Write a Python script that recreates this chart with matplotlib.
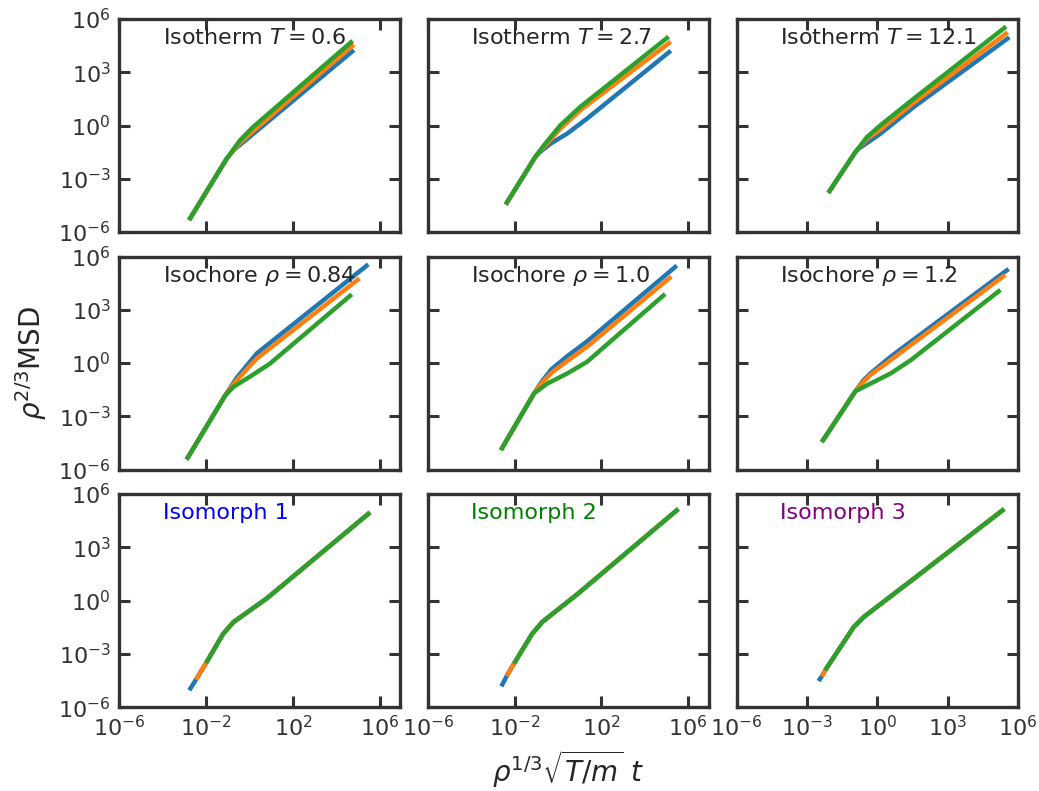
import matplotlib.pyplot as plt
import numpy as np

# all values are log10 of the plotted quantity
# row 1: isotherms (blue, orange, green)
iso_t06_x = [[-2.78, -1.05, -0.74, 4.8],
             [-2.78, -1.05, -0.44, 0.17, 4.8],
             [-2.78, -1.05, -0.44, 0.17, 4.74]]
iso_t06_y = [[-5.33, -1.87, -1.4, 4.25],
             [-5.33, -1.87, -0.99, -0.31, 4.56],
             [-5.33, -1.87, -0.84, -0.08, 4.77]]

iso_t27_x = [[-2.41, -1.03, -0.88, -0.34, 0.42, 1.34, 5.2],
             [-2.41, -1.03, -0.65, 0.11, 1.03, 5.2],
             [-2.41, -1.03, -0.65, 0.11, 1.03, 5.1]]
iso_t27_y = [[-4.45, -1.74, -1.55, -1.02, -0.46, 0.39, 4.21],
             [-4.45, -1.74, -1.21, -0.18, 0.86, 4.72],
             [-4.45, -1.74, -1.12, 0.01, 1.05, 5.0]]

iso_t121_x = [[-2.09, -0.94, -0.8, 0.13, 1.56, 5.63],
              [-2.09, -0.94, -0.44, 0.13, 1.56, 5.56],
              [-2.09, -0.94, -0.44, 0.13, 1.56, 5.49]]
iso_t121_y = [[-3.79, -1.5, -1.31, -0.46, 1.05, 4.97],
              [-3.79, -1.5, -0.75, -0.23, 1.29, 5.25],
              [-3.79, -1.5, -0.65, 0.01, 1.52, 5.57]]

# row 2: isochores
ich_084_x = [[-2.89, -1.13, -0.6, 0.33, 5.46],
             [-2.89, -1.13, -0.6, 0.33, 5.05],
             [-2.89, -1.13, -0.74, 0.0, 0.94, 4.7]]
ich_084_y = [[-5.43, -1.85, -0.85, 0.54, 5.56],
             [-5.43, -1.85, -0.98, 0.25, 4.77],
             [-5.43, -1.85, -1.34, -0.78, -0.03, 3.87]]

ich_10_x = [[-2.63, -1.11, -0.75, -0.3, 0.42, 1.34, 5.48],
            [-2.63, -1.11, -0.75, -0.3, 0.42, 1.34, 5.22],
            [-2.63, -1.11, -0.5, 0.42, 1.34, 4.94]]
ich_10_y = [[-4.9, -1.72, -1.05, -0.35, 0.38, 1.22, 5.49],
            [-4.9, -1.72, -1.12, -0.55, 0.11, 0.92, 4.87],
            [-4.9, -1.72, -1.16, -0.59, 0.07, 3.89]]

ich_12_x = [[-2.37, -0.94, -0.6, -0.3, 0.56, 1.42, 5.6],
            [-2.37, -0.94, -0.6, -0.3, 0.56, 1.42, 5.46],
            [-2.37, -0.94, -0.3, 0.56, 1.42, 5.25]]
ich_12_y = [[-4.45, -1.59, -0.98, -0.59, 0.35, 1.2, 5.3],
            [-4.45, -1.59, -1.07, -0.67, 0.16, 1.01, 4.97],
            [-4.45, -1.59, -1.16, -0.59, 0.16, 4.12]]

# row 3: isomorphs (curves collapse, they only start at different times)
ism_1_x = [[-2.77, -2.46, -2.0, -1.21, -0.74, -0.13, 0.79, 5.54],
           [-2.46, -2.0, -1.21, -0.74, -0.13, 0.79, 5.54],
           [-2.0, -1.21, -0.74, -0.13, 0.79, 5.54]]
ism_1_y = [[-5.05, -4.45, -3.52, -1.87, -1.21, -0.68, 0.12, 4.97],
           [-4.45, -3.52, -1.87, -1.21, -0.68, 0.12, 4.97],
           [-3.52, -1.87, -1.21, -0.68, 0.12, 4.97]]

ism_2_x = [[-2.61, -2.37, -2.03, -1.19, -0.73, -0.04, 0.88, 5.55],
           [-2.37, -2.03, -1.19, -0.73, -0.04, 0.88, 5.55],
           [-2.03, -1.19, -0.73, -0.04, 0.88, 5.55]]
ism_2_y = [[-4.83, -4.26, -3.55, -1.87, -1.21, -0.54, 0.35, 5.16],
           [-4.26, -3.55, -1.87, -1.21, -0.54, 0.35, 5.16],
           [-3.55, -1.87, -1.21, -0.54, 0.35, 5.16]]

ism_3_x = [[-2.51, -2.37, -2.23, -1.01, -0.59, 0.13, 1.56, 5.41],
           [-2.37, -2.23, -1.01, -0.59, 0.13, 1.56, 5.41],
           [-2.23, -1.01, -0.59, 0.13, 1.56, 5.41]]
ism_3_y = [[-4.53, -4.26, -3.93, -1.49, -0.93, -0.2, 1.24, 5.16],
           [-4.26, -3.93, -1.49, -0.93, -0.2, 1.24, 5.16],
           [-3.93, -1.49, -0.93, -0.2, 1.24, 5.16]]

panel_labels = [r"Isotherm $T = 0.6$", r"Isotherm $T = 2.7$", r"Isotherm $T = 12.1$",
                r"Isochore $\rho = 0.84$", r"Isochore $\rho = 1.0$", r"Isochore $\rho = 1.2$",
                "Isomorph 1", "Isomorph 2", "Isomorph 3"]
label_colors = ["0.15"] * 6 + ["blue", "green", "purple"]

x_right = [10 ** 6.93, 10 ** 6.97, 1e6]
x_ticks = [[1e-6, 1e-2, 1e2, 1e6], [1e-6, 1e-2, 1e2, 1e6], [1e-6, 1e-3, 1e0, 1e3, 1e6]]
y_ticks = [1e-6, 1e-3, 1e0, 1e3, 1e6]


def main():
    plt.rcParams["font.size"] = 16
    plt.rcParams["text.color"] = "0.15"
    plt.rcParams["xtick.color"] = "0.2"
    plt.rcParams["ytick.color"] = "0.2"
    plt.rcParams["xtick.labelcolor"] = "0.2"
    plt.rcParams["ytick.labelcolor"] = "0.2"
    plt.rcParams["lines.solid_capstyle"] = "butt"

    fig, axes = plt.subplots(3, 3, figsize=(10.39, 7.91), dpi=100, sharex="col", sharey=True)
    fig.subplots_adjust(left=0.1145, right=0.9798, top=0.976, bottom=0.106,
                        wspace=0.098, hspace=0.115)

    xs = [iso_t06_x, iso_t27_x, iso_t121_x, ich_084_x, ich_10_x, ich_12_x, ism_1_x, ism_2_x, ism_3_x]
    ys = [iso_t06_y, iso_t27_y, iso_t121_y, ich_084_y, ich_10_y, ich_12_y, ism_1_y, ism_2_y, ism_3_y]
    colors = ["#1f77b4", "#ff7f0e", "#2ca02c"]

    for i, ax in enumerate(axes.flat):
        row, col = divmod(i, 3)
        for cx, cy, c in zip(xs[i], ys[i], colors):
            ax.plot(10 ** np.array(cx), 10 ** np.array(cy), color=c, lw=3.2)
        ax.set_xscale("log")
        ax.set_yscale("log")
        ax.set_xlim(1e-6, x_right[col])
        ax.set_ylim(1e-6, 1e6)
        ax.set_xticks(x_ticks[col])
        ax.set_yticks(y_ticks)
        ax.minorticks_off()
        ax.tick_params(direction="in", length=8, width=2.2, top=True, right=True,
                       labelsize=16, pad=6)
        for s in ax.spines.values():
            s.set_linewidth(2.4)
            s.set_color("0.2")
        ax.text(0.155, 0.91, panel_labels[i], transform=ax.transAxes, ha="left",
                va="center", fontsize=16, color=label_colors[i])

    fig.text(0.03, 0.541, r"$\rho^{2/3}$MSD", rotation=90, ha="center", va="center", fontsize=20)
    fig.text(0.547, 0.027, r"$\rho^{1/3}\sqrt{T/m}\ t$", ha="center", va="center", fontsize=20)

    fig.savefig("out.png", dpi=100)
    plt.close(fig)


if __name__ == "__main__":
    main()
